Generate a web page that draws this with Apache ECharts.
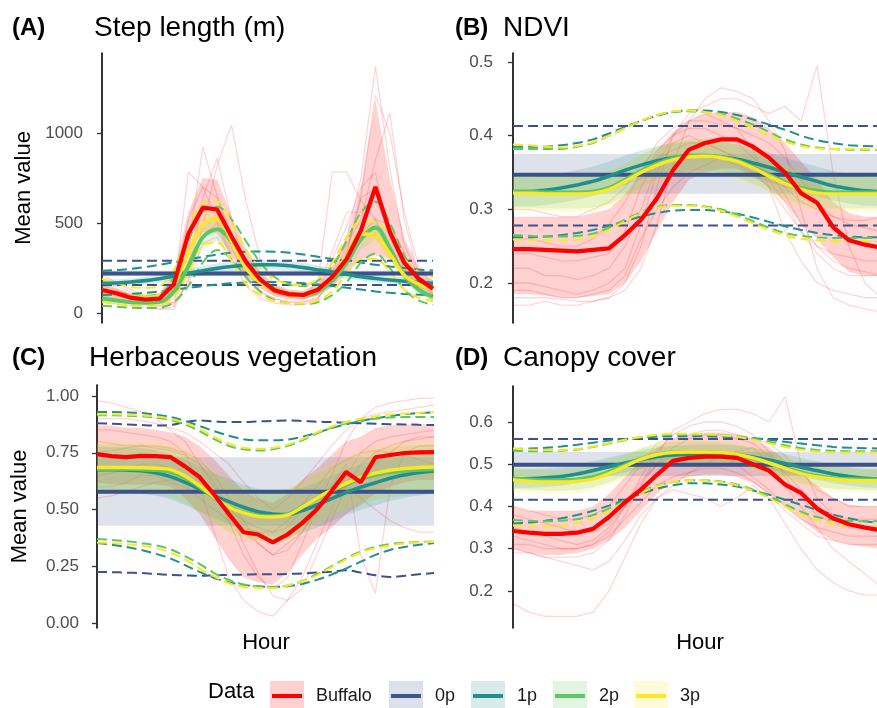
<!DOCTYPE html>
<html><head><meta charset="utf-8">
<script src="https://cdn.jsdelivr.net/npm/echarts@6/dist/echarts.min.js"></script>
<style>html,body{margin:0;padding:0;background:#fff}#c{width:877px;height:708px}</style>
</head><body><div id="c"></div>
<script>
// ---------- DATA ----------
const hours = [0,1,2,3,4,5,6,7,8,9,10,11,12,13,14,15,16,17,18,19,20,21,22,23];
const groups = ['Buffalo','0p','1p','2p','3p'];

// (A) Step length (m)
const A_ticks = [0,500,1000];
const A_buffalo    = [128,110,85,75,80,160,440,585,575,425,285,185,125,105,100,130,200,300,460,700,450,280,190,135];
const A_buffalo_lo = [95,80,62,55,60,105,330,450,440,320,220,140,95,80,78,100,150,220,300,320,300,200,140,100];
const A_buffalo_hi = [170,140,110,100,110,230,560,750,740,540,360,230,160,130,125,165,260,420,700,1180,750,420,250,180];
const A_ind = [
 [150,130,100,70,50,60,350,922,650,400,260,160,110,90,80,100,220,420,750,1370,800,380,200,150],
 [110,95,75,55,40,45,180,480,820,1044,620,300,150,110,90,110,170,330,650,1210,1000,560,260,140],
 [210,170,130,95,70,110,783,700,520,320,210,160,130,110,100,170,783,783,620,520,330,220,160,130],
 [80,70,60,45,25,20,190,640,860,520,260,120,80,60,60,80,190,380,520,850,1111,520,210,100],
 [140,120,100,80,60,80,260,600,560,360,210,140,95,75,75,110,300,480,700,780,420,250,150,110],
 [60,50,40,30,20,35,290,430,500,300,150,80,55,45,45,80,210,340,640,690,440,240,120,70],
 [180,150,115,90,80,125,520,700,640,440,290,180,110,90,90,130,340,560,560,620,480,300,180,140],
 [95,80,60,50,40,60,160,390,420,300,190,110,80,60,60,90,150,290,440,520,490,340,150,80]
];
const A_p0     = [220,220,220,220,220,220,220,220,220,220,220,220,220,220,220,220,220,220,220,220,220,220,220,220];
const A_p0_lo  = [205,205,205,205,205,205,205,205,205,205,205,205,205,205,205,205,205,205,205,205,205,205,205,205];
const A_p0_hi  = [236,236,236,236,236,236,236,236,236,236,236,236,236,236,236,236,236,236,236,236,236,236,236,236];
const A_p0_qlo = [155,155,155,155,155,155,155,155,155,155,155,155,155,155,155,155,155,155,155,155,155,155,155,155];
const A_p0_qhi = [290,290,290,290,290,290,290,290,290,290,290,290,290,290,290,290,290,290,290,290,290,290,290,290];
const A_p1     = [165,167,172,180,190,205,220,235,248,258,265,268,268,262,252,240,228,215,202,192,183,176,170,165];
const A_p1_lo  = [145,147,151,158,167,181,195,209,221,231,238,241,241,236,226,215,204,192,180,170,162,155,150,145];
const A_p1_hi  = [185,187,193,202,213,229,245,261,275,285,292,295,295,288,278,265,252,238,224,214,204,197,190,185];
const A_p1_qlo = [100,102,106,112,120,130,140,150,158,165,170,172,172,170,165,158,150,140,130,120,112,106,102,100];
const A_p1_qhi = [235,238,245,255,268,282,298,312,325,335,340,342,340,335,325,312,300,290,280,268,258,250,242,236];
const A_p2     = [80,70,60,58,62,120,260,420,465,400,290,190,130,105,100,120,180,280,410,475,360,210,130,90];
const A_p2_lo  = [60,52,44,42,45,90,210,360,400,340,240,155,105,85,80,95,145,230,350,410,300,170,100,68];
const A_p2_hi  = [100,88,76,74,80,150,310,480,530,460,340,225,155,125,120,145,215,330,470,540,420,250,160,112];
const A_p2_qlo = [40,35,30,28,30,60,150,280,350,300,200,120,70,55,50,60,100,170,280,330,250,130,70,45];
const A_p2_qhi = [130,115,100,95,105,200,400,560,590,520,400,280,200,160,150,180,260,400,560,620,500,320,200,145];
const A_p3     = [128,108,92,88,95,160,330,490,525,400,250,170,125,105,100,130,200,320,440,430,330,210,160,135];
const A_p3_lo  = [105,88,74,70,76,130,280,430,465,345,210,140,100,85,80,105,165,275,385,375,280,175,130,110];
const A_p3_hi  = [150,128,110,106,114,190,380,550,585,455,290,200,150,125,120,155,235,365,495,485,380,245,190,160];
const A_p3_qlo = [60,50,42,40,45,90,220,380,390,290,160,100,65,55,52,70,120,220,300,300,230,130,85,65];
const A_p3_qhi = [190,165,145,140,150,240,450,610,620,500,350,250,190,160,155,190,280,420,510,510,430,300,230,200];

// (B) NDVI
const B_ticks = [0.2,0.3,0.4,0.5];
const B_buffalo    = [0.246,0.246,0.245,0.244,0.243,0.245,0.247,0.265,0.286,0.315,0.353,0.381,0.39,0.395,0.395,0.385,0.37,0.35,0.322,0.309,0.276,0.258,0.252,0.248];
const B_buffalo_lo = [0.185,0.185,0.183,0.18,0.18,0.182,0.185,0.2,0.23,0.27,0.31,0.34,0.35,0.355,0.355,0.345,0.33,0.31,0.28,0.26,0.235,0.215,0.21,0.21];
const B_buffalo_hi = [0.29,0.29,0.29,0.29,0.29,0.295,0.3,0.32,0.35,0.38,0.405,0.42,0.43,0.432,0.432,0.425,0.41,0.39,0.365,0.34,0.31,0.295,0.29,0.29];
const B_ind = [
 [0.17,0.17,0.175,0.17,0.17,0.175,0.18,0.2,0.25,0.33,0.4,0.43,0.44,0.45,0.45,0.44,0.43,0.44,0.42,0.495,0.35,0.25,0.2,0.18],
 [0.18,0.18,0.18,0.178,0.175,0.175,0.18,0.19,0.22,0.28,0.36,0.42,0.45,0.465,0.46,0.45,0.42,0.38,0.3,0.22,0.18,0.17,0.165,0.16],
 [0.22,0.22,0.21,0.21,0.205,0.21,0.22,0.25,0.3,0.36,0.4,0.42,0.43,0.42,0.41,0.38,0.33,0.27,0.23,0.2,0.19,0.185,0.18,0.18],
 [0.26,0.26,0.255,0.25,0.25,0.26,0.28,0.31,0.35,0.39,0.41,0.42,0.42,0.415,0.41,0.4,0.39,0.37,0.34,0.31,0.29,0.28,0.275,0.27],
 [0.3,0.3,0.295,0.29,0.29,0.3,0.31,0.33,0.36,0.38,0.4,0.41,0.41,0.4,0.39,0.37,0.35,0.33,0.31,0.3,0.29,0.285,0.285,0.29],
 [0.2,0.2,0.195,0.19,0.185,0.19,0.2,0.22,0.28,0.35,0.39,0.4,0.39,0.38,0.37,0.36,0.34,0.31,0.27,0.24,0.22,0.21,0.21,0.21],
 [0.19,0.19,0.185,0.18,0.18,0.185,0.19,0.21,0.26,0.3,0.33,0.35,0.36,0.37,0.36,0.35,0.33,0.3,0.27,0.25,0.23,0.22,0.215,0.21],
 [0.24,0.24,0.235,0.23,0.23,0.235,0.24,0.27,0.33,0.37,0.38,0.39,0.39,0.38,0.37,0.36,0.35,0.32,0.28,0.25,0.24,0.235,0.23,0.23]
];
const B_p0     = [0.347,0.347,0.347,0.347,0.347,0.347,0.347,0.347,0.347,0.347,0.347,0.347,0.347,0.347,0.347,0.347,0.347,0.347,0.347,0.347,0.347,0.347,0.347,0.347];
const B_p0_lo  = [0.321,0.321,0.321,0.321,0.321,0.321,0.321,0.321,0.321,0.321,0.321,0.321,0.321,0.321,0.321,0.321,0.321,0.321,0.321,0.321,0.321,0.321,0.321,0.321];
const B_p0_hi  = [0.375,0.375,0.375,0.375,0.375,0.375,0.375,0.375,0.375,0.375,0.375,0.375,0.375,0.375,0.375,0.375,0.375,0.375,0.375,0.375,0.375,0.375,0.375,0.375];
const B_p0_qlo = [0.278,0.278,0.278,0.278,0.278,0.278,0.278,0.278,0.278,0.278,0.278,0.278,0.278,0.278,0.278,0.278,0.278,0.278,0.278,0.278,0.278,0.278,0.278,0.278];
const B_p0_qhi = [0.413,0.413,0.413,0.413,0.413,0.413,0.413,0.413,0.413,0.413,0.413,0.413,0.413,0.413,0.413,0.413,0.413,0.413,0.413,0.413,0.413,0.413,0.413,0.413];
const B_p1     = [0.324,0.324,0.326,0.329,0.333,0.338,0.345,0.353,0.36,0.366,0.37,0.372,0.372,0.371,0.368,0.363,0.357,0.35,0.344,0.338,0.332,0.328,0.325,0.324];
const B_p1_lo  = [0.304,0.304,0.306,0.309,0.313,0.318,0.325,0.333,0.34,0.346,0.35,0.352,0.352,0.351,0.348,0.343,0.337,0.33,0.324,0.318,0.312,0.308,0.305,0.304];
const B_p1_hi  = [0.344,0.344,0.346,0.349,0.353,0.358,0.365,0.373,0.38,0.386,0.39,0.392,0.392,0.391,0.388,0.383,0.377,0.37,0.364,0.358,0.352,0.348,0.345,0.344];
const B_p1_qlo = [0.262,0.262,0.263,0.265,0.268,0.272,0.278,0.284,0.29,0.295,0.298,0.299,0.299,0.297,0.294,0.289,0.283,0.277,0.272,0.268,0.265,0.263,0.262,0.262];
const B_p1_qhi = [0.385,0.385,0.385,0.387,0.39,0.395,0.403,0.412,0.42,0.427,0.432,0.434,0.434,0.432,0.428,0.422,0.415,0.408,0.4,0.394,0.39,0.387,0.386,0.385];
const B_p2     = [0.324,0.324,0.323,0.323,0.323,0.324,0.329,0.34,0.352,0.362,0.369,0.373,0.373,0.371,0.366,0.357,0.347,0.337,0.329,0.325,0.323,0.323,0.323,0.323];
const B_p2_lo  = [0.302,0.302,0.301,0.301,0.301,0.302,0.307,0.318,0.33,0.34,0.347,0.351,0.351,0.349,0.344,0.335,0.325,0.315,0.307,0.303,0.301,0.301,0.301,0.301];
const B_p2_hi  = [0.346,0.346,0.345,0.345,0.345,0.346,0.351,0.362,0.374,0.384,0.391,0.395,0.395,0.393,0.388,0.379,0.369,0.359,0.351,0.347,0.345,0.345,0.345,0.345];
const B_p2_qlo = [0.265,0.264,0.263,0.263,0.264,0.267,0.275,0.286,0.296,0.303,0.306,0.306,0.304,0.3,0.293,0.284,0.275,0.268,0.264,0.262,0.261,0.261,0.261,0.261];
const B_p2_qhi = [0.382,0.382,0.382,0.382,0.385,0.39,0.4,0.41,0.42,0.428,0.432,0.433,0.432,0.429,0.423,0.415,0.405,0.395,0.388,0.384,0.382,0.381,0.381,0.381];
const B_p3     = [0.322,0.322,0.321,0.321,0.321,0.322,0.327,0.338,0.35,0.36,0.367,0.371,0.372,0.37,0.365,0.356,0.345,0.335,0.327,0.322,0.321,0.321,0.321,0.321];
const B_p3_lo  = [0.298,0.298,0.297,0.297,0.297,0.298,0.303,0.314,0.326,0.336,0.343,0.347,0.348,0.346,0.341,0.332,0.321,0.311,0.303,0.298,0.297,0.297,0.297,0.297];
const B_p3_hi  = [0.346,0.346,0.345,0.345,0.345,0.346,0.351,0.362,0.374,0.384,0.391,0.395,0.396,0.394,0.389,0.38,0.369,0.359,0.351,0.346,0.345,0.345,0.345,0.345];
const B_p3_qlo = [0.259,0.258,0.258,0.258,0.259,0.263,0.272,0.284,0.295,0.302,0.305,0.305,0.303,0.298,0.29,0.281,0.272,0.265,0.26,0.258,0.257,0.257,0.257,0.257];
const B_p3_qhi = [0.388,0.387,0.385,0.384,0.386,0.391,0.4,0.41,0.42,0.428,0.433,0.434,0.432,0.428,0.42,0.41,0.4,0.392,0.386,0.383,0.382,0.382,0.382,0.382];

// (C) Herbaceous vegetation
const C_ticks = [0,0.25,0.5,0.75,1];
const C_buffalo    = [0.744,0.735,0.731,0.736,0.735,0.731,0.69,0.643,0.565,0.48,0.40,0.39,0.355,0.39,0.44,0.50,0.58,0.665,0.62,0.73,0.74,0.749,0.752,0.753];
const C_buffalo_lo = [0.62,0.61,0.61,0.61,0.61,0.6,0.55,0.48,0.38,0.28,0.2,0.18,0.17,0.22,0.3,0.37,0.42,0.48,0.52,0.57,0.6,0.62,0.63,0.63];
const C_buffalo_hi = [0.87,0.87,0.86,0.86,0.85,0.84,0.82,0.78,0.72,0.65,0.58,0.55,0.53,0.57,0.63,0.68,0.74,0.8,0.82,0.86,0.87,0.875,0.875,0.875];
const C_ind = [
 [0.98,0.97,0.95,0.93,0.9,0.85,0.8,0.7,0.6,0.45,0.3,0.2,0.15,0.2,0.35,0.5,0.65,0.8,0.9,0.95,0.97,0.98,0.99,0.99],
 [0.85,0.85,0.84,0.83,0.82,0.8,0.75,0.6,0.4,0.2,0.1,0.05,0.03,0.1,0.2,0.35,0.5,0.65,0.75,0.8,0.82,0.83,0.84,0.85],
 [0.6,0.6,0.62,0.65,0.65,0.62,0.6,0.55,0.5,0.45,0.4,0.35,0.3,0.35,0.4,0.5,0.55,0.6,0.55,0.5,0.45,0.42,0.4,0.4],
 [0.75,0.76,0.77,0.78,0.78,0.77,0.75,0.72,0.65,0.55,0.45,0.35,0.3,0.32,0.4,0.5,0.6,0.7,0.3,0.13,0.6,0.75,0.78,0.78],
 [0.65,0.66,0.68,0.7,0.7,0.68,0.65,0.6,0.55,0.5,0.45,0.42,0.4,0.42,0.5,0.55,0.6,0.62,0.65,0.7,0.75,0.8,0.82,0.82],
 [0.8,0.79,0.78,0.78,0.77,0.76,0.74,0.7,0.62,0.5,0.35,0.22,0.12,0.1,0.15,0.3,0.45,0.6,0.7,0.75,0.78,0.8,0.81,0.82],
 [0.55,0.56,0.58,0.6,0.62,0.63,0.63,0.6,0.55,0.48,0.42,0.4,0.4,0.45,0.52,0.6,0.68,0.72,0.75,0.76,0.75,0.74,0.72,0.7],
 [0.9,0.9,0.9,0.89,0.88,0.86,0.84,0.8,0.75,0.7,0.62,0.55,0.5,0.55,0.62,0.7,0.78,0.85,0.9,0.92,0.93,0.94,0.95,0.96]
];
const C_p0     = [0.578,0.578,0.578,0.578,0.578,0.578,0.578,0.578,0.578,0.578,0.578,0.578,0.578,0.578,0.578,0.578,0.578,0.578,0.578,0.578,0.578,0.578,0.578,0.578];
const C_p0_lo  = [0.428,0.428,0.428,0.428,0.428,0.428,0.428,0.428,0.428,0.428,0.428,0.428,0.428,0.428,0.428,0.428,0.428,0.428,0.428,0.428,0.428,0.428,0.428,0.428];
const C_p0_hi  = [0.73,0.73,0.73,0.73,0.73,0.73,0.73,0.73,0.73,0.73,0.73,0.73,0.73,0.73,0.73,0.73,0.73,0.73,0.73,0.73,0.73,0.73,0.73,0.73];
const C_p0_qlo = [0.225,0.224,0.222,0.22,0.216,0.212,0.21,0.208,0.21,0.212,0.213,0.215,0.215,0.216,0.218,0.222,0.226,0.232,0.222,0.21,0.203,0.208,0.215,0.22];
const C_p0_qhi = [0.88,0.878,0.875,0.872,0.87,0.872,0.885,0.892,0.888,0.885,0.885,0.888,0.89,0.892,0.89,0.887,0.885,0.882,0.88,0.878,0.876,0.875,0.873,0.872];
const C_p1     = [0.675,0.675,0.674,0.671,0.662,0.645,0.62,0.59,0.56,0.535,0.51,0.49,0.48,0.478,0.495,0.52,0.548,0.575,0.598,0.618,0.638,0.652,0.663,0.67];
const C_p1_lo  = [0.575,0.575,0.574,0.571,0.562,0.545,0.52,0.49,0.46,0.435,0.41,0.39,0.38,0.378,0.395,0.42,0.448,0.475,0.498,0.518,0.538,0.552,0.563,0.57];
const C_p1_hi  = [0.775,0.775,0.774,0.771,0.762,0.745,0.72,0.69,0.66,0.635,0.61,0.59,0.58,0.578,0.595,0.62,0.648,0.675,0.698,0.718,0.738,0.752,0.763,0.77];
const C_p1_qlo = [0.352,0.345,0.335,0.322,0.305,0.285,0.255,0.225,0.198,0.18,0.168,0.162,0.159,0.162,0.172,0.19,0.213,0.24,0.27,0.3,0.322,0.335,0.345,0.352];
const C_p1_qhi = [0.93,0.93,0.928,0.925,0.918,0.908,0.89,0.868,0.845,0.825,0.81,0.805,0.805,0.808,0.82,0.838,0.858,0.875,0.89,0.902,0.912,0.92,0.925,0.928];
const C_p2     = [0.678,0.678,0.678,0.677,0.674,0.666,0.64,0.6,0.553,0.51,0.487,0.474,0.47,0.478,0.512,0.55,0.583,0.61,0.635,0.652,0.664,0.671,0.675,0.677];
const C_p2_lo  = [0.568,0.568,0.568,0.567,0.564,0.556,0.53,0.49,0.443,0.4,0.377,0.364,0.36,0.368,0.402,0.44,0.473,0.5,0.525,0.542,0.554,0.561,0.565,0.567];
const C_p2_hi  = [0.788,0.788,0.788,0.787,0.784,0.776,0.75,0.71,0.663,0.62,0.597,0.584,0.58,0.588,0.622,0.66,0.693,0.72,0.745,0.762,0.774,0.781,0.785,0.787];
const C_p2_qlo = [0.37,0.366,0.36,0.352,0.342,0.325,0.295,0.26,0.22,0.19,0.17,0.16,0.158,0.165,0.185,0.215,0.25,0.285,0.315,0.335,0.348,0.354,0.357,0.358];
const C_p2_qhi = [0.915,0.915,0.913,0.91,0.905,0.895,0.875,0.845,0.81,0.78,0.765,0.76,0.765,0.78,0.805,0.835,0.86,0.88,0.893,0.9,0.905,0.907,0.908,0.908];
const C_p3     = [0.685,0.685,0.685,0.684,0.682,0.676,0.648,0.605,0.555,0.51,0.485,0.47,0.467,0.475,0.51,0.55,0.585,0.615,0.642,0.66,0.673,0.68,0.685,0.687];
const C_p3_lo  = [0.57,0.57,0.57,0.569,0.567,0.561,0.533,0.49,0.44,0.395,0.37,0.355,0.352,0.36,0.395,0.435,0.47,0.5,0.527,0.545,0.558,0.565,0.57,0.572];
const C_p3_hi  = [0.8,0.8,0.8,0.799,0.797,0.791,0.763,0.72,0.67,0.625,0.6,0.585,0.582,0.59,0.625,0.665,0.7,0.73,0.757,0.775,0.788,0.795,0.8,0.802];
const C_p3_qlo = [0.355,0.352,0.347,0.34,0.33,0.31,0.28,0.24,0.205,0.175,0.16,0.155,0.154,0.165,0.185,0.21,0.245,0.28,0.31,0.33,0.342,0.35,0.355,0.357];
const C_p3_qhi = [0.92,0.92,0.918,0.915,0.91,0.9,0.882,0.855,0.82,0.79,0.772,0.768,0.772,0.785,0.81,0.84,0.865,0.885,0.9,0.91,0.918,0.923,0.926,0.928];

// (D) Canopy cover
const D_ticks = [0.2,0.3,0.4,0.5,0.6];
const D_buffalo    = [0.342,0.338,0.335,0.335,0.338,0.347,0.375,0.41,0.44,0.475,0.508,0.515,0.518,0.518,0.515,0.5,0.485,0.452,0.432,0.395,0.372,0.358,0.35,0.344];
const D_buffalo_lo = [0.3,0.29,0.285,0.285,0.29,0.3,0.32,0.35,0.39,0.43,0.46,0.47,0.475,0.475,0.47,0.455,0.43,0.4,0.37,0.34,0.32,0.31,0.305,0.3];
const D_buffalo_hi = [0.4,0.39,0.39,0.39,0.39,0.4,0.43,0.47,0.51,0.54,0.56,0.57,0.575,0.575,0.57,0.56,0.54,0.51,0.48,0.45,0.42,0.405,0.4,0.4];
const D_ind = [
 [0.17,0.15,0.14,0.14,0.14,0.15,0.2,0.28,0.36,0.42,0.45,0.48,0.5,0.52,0.53,0.54,0.5,0.45,0.4,0.35,0.3,0.27,0.24,0.21],
 [0.3,0.29,0.28,0.28,0.28,0.29,0.32,0.38,0.45,0.52,0.58,0.6,0.62,0.63,0.63,0.62,0.6,0.66,0.5,0.42,0.38,0.36,0.35,0.35],
 [0.33,0.32,0.31,0.3,0.3,0.31,0.34,0.4,0.46,0.5,0.52,0.53,0.53,0.52,0.5,0.47,0.44,0.4,0.37,0.35,0.34,0.33,0.33,0.33],
 [0.38,0.37,0.36,0.35,0.34,0.34,0.36,0.4,0.45,0.5,0.54,0.56,0.57,0.57,0.56,0.55,0.52,0.48,0.44,0.4,0.38,0.37,0.37,0.37],
 [0.29,0.29,0.28,0.27,0.26,0.25,0.27,0.32,0.38,0.42,0.44,0.43,0.42,0.4,0.42,0.45,0.42,0.36,0.3,0.25,0.22,0.2,0.19,0.19],
 [0.4,0.39,0.38,0.37,0.37,0.38,0.4,0.45,0.5,0.55,0.56,0.57,0.58,0.58,0.57,0.56,0.55,0.52,0.48,0.44,0.42,0.4,0.4,0.4],
 [0.31,0.31,0.3,0.3,0.3,0.31,0.33,0.37,0.41,0.45,0.47,0.48,0.49,0.49,0.48,0.46,0.43,0.39,0.36,0.33,0.32,0.31,0.31,0.31],
 [0.35,0.34,0.33,0.32,0.31,0.32,0.35,0.4,0.47,0.53,0.57,0.59,0.6,0.6,0.59,0.57,0.53,0.47,0.42,0.38,0.36,0.35,0.35,0.34]
];
const D_p0     = [0.499,0.499,0.499,0.499,0.499,0.499,0.499,0.499,0.499,0.499,0.499,0.499,0.499,0.499,0.499,0.499,0.499,0.499,0.499,0.499,0.499,0.499,0.499,0.499];
const D_p0_lo  = [0.472,0.472,0.472,0.472,0.472,0.472,0.472,0.472,0.472,0.472,0.472,0.472,0.472,0.472,0.472,0.472,0.472,0.472,0.472,0.472,0.472,0.472,0.472,0.472];
const D_p0_hi  = [0.529,0.529,0.529,0.529,0.529,0.529,0.529,0.529,0.529,0.529,0.529,0.529,0.529,0.529,0.529,0.529,0.529,0.529,0.529,0.529,0.529,0.529,0.529,0.529];
const D_p0_qlo = [0.416,0.416,0.416,0.416,0.416,0.416,0.416,0.416,0.416,0.416,0.416,0.416,0.416,0.416,0.416,0.416,0.416,0.416,0.416,0.416,0.416,0.416,0.416,0.416];
const D_p0_qhi = [0.56,0.56,0.56,0.56,0.56,0.56,0.56,0.56,0.56,0.56,0.56,0.56,0.56,0.56,0.56,0.56,0.56,0.56,0.56,0.56,0.56,0.56,0.56,0.56];
const D_p1     = [0.465,0.466,0.468,0.471,0.477,0.485,0.494,0.503,0.511,0.518,0.522,0.524,0.525,0.524,0.522,0.517,0.51,0.502,0.493,0.485,0.477,0.471,0.467,0.465];
const D_p1_lo  = [0.443,0.444,0.446,0.449,0.455,0.463,0.472,0.481,0.489,0.496,0.5,0.502,0.503,0.502,0.5,0.495,0.488,0.48,0.471,0.463,0.455,0.449,0.445,0.443];
const D_p1_hi  = [0.487,0.488,0.49,0.493,0.499,0.507,0.516,0.525,0.533,0.54,0.544,0.546,0.547,0.546,0.544,0.539,0.532,0.524,0.515,0.507,0.499,0.493,0.489,0.487];
const D_p1_qlo = [0.36,0.362,0.366,0.372,0.38,0.39,0.402,0.416,0.43,0.442,0.45,0.455,0.455,0.452,0.447,0.438,0.428,0.416,0.404,0.392,0.381,0.372,0.365,0.361];
const D_p1_qhi = [0.536,0.537,0.539,0.542,0.546,0.551,0.556,0.56,0.563,0.565,0.566,0.566,0.566,0.565,0.564,0.562,0.558,0.553,0.549,0.545,0.541,0.539,0.538,0.537];
const D_p2     = [0.467,0.464,0.462,0.462,0.464,0.47,0.482,0.498,0.513,0.523,0.528,0.529,0.529,0.527,0.522,0.514,0.503,0.491,0.48,0.472,0.467,0.465,0.464,0.464];
const D_p2_lo  = [0.442,0.439,0.437,0.437,0.439,0.445,0.457,0.473,0.488,0.498,0.503,0.504,0.504,0.502,0.497,0.489,0.478,0.466,0.455,0.447,0.442,0.44,0.439,0.439];
const D_p2_hi  = [0.492,0.489,0.487,0.487,0.489,0.495,0.507,0.523,0.538,0.548,0.553,0.554,0.554,0.552,0.547,0.539,0.528,0.516,0.505,0.497,0.492,0.49,0.489,0.489];
const D_p2_qlo = [0.368,0.366,0.365,0.366,0.37,0.38,0.395,0.415,0.435,0.45,0.458,0.462,0.462,0.459,0.452,0.44,0.425,0.405,0.388,0.375,0.368,0.366,0.365,0.365];
const D_p2_qhi = [0.532,0.531,0.531,0.532,0.535,0.541,0.549,0.557,0.564,0.568,0.57,0.571,0.57,0.569,0.566,0.561,0.553,0.545,0.538,0.534,0.532,0.531,0.531,0.531];
const D_p3     = [0.463,0.46,0.458,0.458,0.46,0.465,0.478,0.495,0.512,0.523,0.528,0.529,0.529,0.528,0.523,0.515,0.503,0.49,0.478,0.47,0.465,0.462,0.461,0.461];
const D_p3_lo  = [0.435,0.432,0.43,0.43,0.432,0.437,0.45,0.467,0.484,0.495,0.5,0.501,0.501,0.5,0.495,0.487,0.475,0.462,0.45,0.442,0.437,0.434,0.433,0.433];
const D_p3_hi  = [0.491,0.488,0.486,0.486,0.488,0.493,0.506,0.523,0.54,0.551,0.556,0.557,0.557,0.556,0.551,0.543,0.531,0.518,0.506,0.498,0.493,0.49,0.489,0.489];
const D_p3_qlo = [0.355,0.353,0.352,0.354,0.36,0.372,0.39,0.412,0.432,0.448,0.458,0.462,0.462,0.458,0.45,0.437,0.42,0.4,0.382,0.368,0.358,0.354,0.352,0.352];
const D_p3_qhi = [0.537,0.535,0.534,0.534,0.536,0.542,0.55,0.558,0.565,0.57,0.572,0.572,0.571,0.569,0.565,0.558,0.55,0.541,0.534,0.53,0.528,0.528,0.528,0.528];

// ---------- LAYOUT / STYLE ----------
const FONT = "'Liberation Sans', Arial, Helvetica, sans-serif";
const COL = {'Buffalo':'#FF0000','0p':'#3B528B','1p':'#21908C','2p':'#5DC863','3p':'#FDE725'};
const LW  = {'Buffalo':4.2,'0p':4,'1p':3.6,'2p':4,'3p':3.4};

const panels = [
 {tag:'(A)', title:'Step length (m)', tagX:12, titleX:94, titleY:14, g:{left:93, top:53, width:340, height:270}, x:[-0.625,23], y:[-55.6,1444.4], ticks:A_ticks, dec:0, yname:'Mean value', xname:'',
  buf:[A_buffalo,A_buffalo_lo,A_buffalo_hi], ind:A_ind,
  p:{'0p':[A_p0,A_p0_lo,A_p0_hi,A_p0_qlo,A_p0_qhi],'1p':[A_p1,A_p1_lo,A_p1_hi,A_p1_qlo,A_p1_qhi],'2p':[A_p2,A_p2_lo,A_p2_hi,A_p2_qlo,A_p2_qhi],'3p':[A_p3,A_p3_lo,A_p3_hi,A_p3_qlo,A_p3_qhi]}},
 {tag:'(B)', title:'NDVI', tagX:455, titleX:503, titleY:14, g:{left:503, top:53, width:374, height:270}, x:[-0.625,22.75], y:[0.1457,0.5122], ticks:B_ticks, dec:1, yname:'', xname:'',
  buf:[B_buffalo,B_buffalo_lo,B_buffalo_hi], ind:B_ind,
  p:{'0p':[B_p0,B_p0_lo,B_p0_hi,B_p0_qlo,B_p0_qhi],'1p':[B_p1,B_p1_lo,B_p1_hi,B_p1_qlo,B_p1_qhi],'2p':[B_p2,B_p2_lo,B_p2_hi,B_p2_qlo,B_p2_qhi],'3p':[B_p3,B_p3_lo,B_p3_hi,B_p3_qlo,B_p3_qhi]}},
 {tag:'(C)', title:'Herbaceous vegetation', tagX:12, titleX:89, titleY:344, g:{left:89, top:385, width:345, height:243}, x:[-0.546,23], y:[-0.022,1.0485], ticks:C_ticks, dec:2, yname:'Mean value', xname:'Hour', xpad:9,
  buf:[C_buffalo,C_buffalo_lo,C_buffalo_hi], ind:C_ind,
  p:{'0p':[C_p0,C_p0_lo,C_p0_hi,C_p0_qlo,C_p0_qhi],'1p':[C_p1,C_p1_lo,C_p1_hi,C_p1_qlo,C_p1_qhi],'2p':[C_p2,C_p2_lo,C_p2_hi,C_p2_qlo,C_p2_qhi],'3p':[C_p3,C_p3_lo,C_p3_hi,C_p3_qlo,C_p3_qhi]}},
 {tag:'(D)', title:'Canopy cover', tagX:455, titleX:503, titleY:344, g:{left:503, top:386, width:374, height:242}, x:[-0.625,22.75], y:[0.1124,0.6852], ticks:D_ticks, dec:1, yname:'', xname:'Hour', xpad:20,
  buf:[D_buffalo,D_buffalo_lo,D_buffalo_hi], ind:D_ind,
  p:{'0p':[D_p0,D_p0_lo,D_p0_hi,D_p0_qlo,D_p0_qhi],'1p':[D_p1,D_p1_lo,D_p1_hi,D_p1_qlo,D_p1_qhi],'2p':[D_p2,D_p2_lo,D_p2_hi,D_p2_qlo,D_p2_qhi],'3p':[D_p3,D_p3_lo,D_p3_hi,D_p3_qlo,D_p3_qhi]}}
];

const xy = arr => arr.map((v,i)=>[hours[i], v]);

const grids=[], xAxes=[], yAxes=[], titles=[], series=[];
panels.forEach((P,k)=>{
  grids.push(Object.assign({containLabel:false}, P.g));
  xAxes.push({gridIndex:k, type:'value', min:P.x[0], max:P.x[1],
    axisLine:{show:false}, axisTick:{show:false}, axisLabel:{show:false}, splitLine:{show:false},
    name:P.xname, nameLocation:'middle', nameGap:4,
    nameTextStyle:{fontSize:22, color:'#000', fontFamily:FONT, padding:[0,0,0,P.xpad||0]}});
  yAxes.push({gridIndex:k, type:'value', min:P.y[0], max:P.y[1],
    axisLine:{show:true, lineStyle:{color:'#000', width:1.6}},
    axisTick:{show:true, length:5, lineStyle:{color:'#333', width:1.3}, customValues:P.ticks},
    axisLabel:{customValues:P.ticks, formatter:v=>Number(v).toFixed(P.dec), color:'#4D4D4D', fontSize:17, margin:10, fontFamily:FONT},
    splitLine:{show:false},
    name:P.yname, nameLocation:'middle', nameGap:58, nameRotate:90,
    nameTextStyle:{fontSize:22, color:'#000', fontFamily:FONT}});
  titles.push({text:P.tag, left:P.tagX, top:P.titleY+2, padding:0, textStyle:{fontSize:24, fontWeight:'bold', color:'#000', fontFamily:FONT}});
  titles.push({text:P.title, left:P.titleX, top:P.titleY, padding:0, textStyle:{fontSize:28, fontWeight:'normal', color:'#000', fontFamily:FONT}});

  const base = {xAxisIndex:k, yAxisIndex:k, silent:true, emphasis:{disabled:true}};
  // individual buffalo tracks
  P.ind.forEach(arr=>series.push(Object.assign({}, base, {type:'line', symbol:'none', name:'Buffalo individual', data:xy(arr),
     lineStyle:{color:'rgba(255,0,0,0.16)', width:1.3}, z:1})));
  // ribbons (polygon between lower and upper bound, placed with the axis scales)
  const ribbons = [['Buffalo', P.buf[1], P.buf[2]]].concat(['0p','1p','2p','3p'].map(g=>[g, P.p[g][1], P.p[g][2]]));
  ribbons.forEach(([g,lo,hi])=>{
    series.push(Object.assign({}, base, {type:'custom', name:g+' interval', clip:true, z:2,
      data:[[hours[0], lo[0]]],
      renderItem:(params, api)=>{
        const up = hours.map((h,i)=>api.coord([h, hi[i]]));
        const dn = hours.map((h,i)=>api.coord([h, lo[i]])).reverse();
        return {type:'polygon', shape:{points:up.concat(dn)}, style:{fill:COL[g], opacity:g==='Buffalo'?0.18:0.17}};
      }}));
  });
  // dashed quantile lines
  ['0p','1p','2p','3p'].forEach(g=>{
    [P.p[g][3], P.p[g][4]].forEach(arr=>series.push(Object.assign({}, base, {type:'line', symbol:'none', name:g+' quantile', data:xy(arr), smooth:0.35,
       lineStyle:{color:COL[g], width:2, type:[10,5]}, z:3})));
  });
  // main lines
  ['0p','1p','2p','3p'].forEach((g,i)=>series.push(Object.assign({}, base, {type:'line', symbol:'none', name:g, data:xy(P.p[g][0]), smooth:0.35,
       lineStyle:{color:COL[g], width:LW[g]}, itemStyle:{color:COL[g]}, z:4+i})));
  series.push(Object.assign({}, base, {type:'line', symbol:'none', name:'Buffalo', data:xy(P.buf[0]), lineStyle:{color:COL.Buffalo, width:LW.Buffalo}, itemStyle:{color:COL.Buffalo}, z:9}));
});

// legend
const boxX = {'Buffalo':270,'0p':389,'1p':471,'2p':553,'3p':634};
const legends = groups.map(g=>({data:[{name:g, icon:'rect', itemStyle:{color:COL[g]}}], selectedMode:false,
   left:boxX[g]+2, top:687, padding:0, itemWidth:30, itemHeight:4, z:10,
   textStyle:{fontSize:18, color:'#1a1a1a', fontFamily:FONT, padding:[0,0,0,9]}}));
const graphics = [{type:'text', left:208, top:681, style:{text:'Data', fontSize:22, fill:'#000', font:'22px '+FONT}}]
  .concat(groups.map(g=>({type:'rect', left:boxX[g], top:681, shape:{width:34, height:27}, style:{fill:COL[g], opacity:0.18}, z:-1})));

const chart = echarts.init(document.getElementById('c'), null, {renderer:'canvas'});
chart.setOption({
  animation:false, backgroundColor:'#fff', textStyle:{fontFamily:FONT},
  title:titles, grid:grids, xAxis:xAxes, yAxis:yAxes, legend:legends, graphic:graphics, series:series
});
</script></body></html>
